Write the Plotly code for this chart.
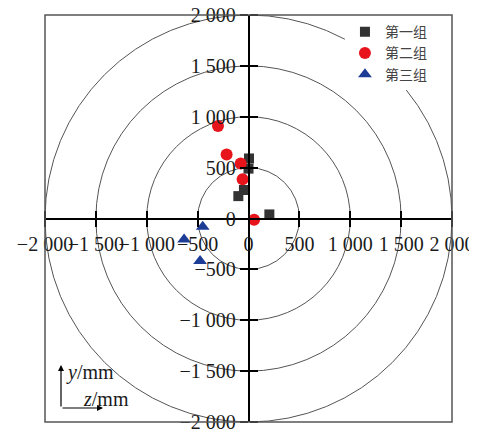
import plotly.graph_objects as go

# ---- data (z, y in mm) ----
g1_z = [5, 0, -45, -100, 205]
g1_y = [590, 490, 280, 220, 40]
g2_z = [-300, -215, -77, -58, 55]
g2_y = [910, 630, 540, 385, -12]
g3_z = [-450, -633, -476]
g3_y = [-80, -206, -417]

names = ["第一组", "第二组", "第三组"]
radii = [500, 1000, 1500, 2000]
tick_vals = [-2000, -1500, -1000, -500, 0, 500, 1000, 1500, 2000]
tick_text = ["−2 000", "−1 500", "−1 000", "−500", "0", "500", "1 000", "1 500", "2 000"]

fig = go.Figure()
fig.add_trace(go.Scatter(x=g1_z, y=g1_y, mode="markers", name=names[0],
                         marker=dict(symbol="square", size=10, color="#333333")))
fig.add_trace(go.Scatter(x=g2_z, y=g2_y, mode="markers", name=names[1],
                         marker=dict(symbol="circle", size=12, color="#e8141c")))
fig.add_trace(go.Scatter(x=g3_z, y=g3_y, mode="markers", name=names[2],
                         marker=dict(symbol="triangle-up", size=12, color="#1c3c96")))
# invisible trace to host the overlay axes (upper/right halves of ticks)
fig.add_trace(go.Scatter(x=[], y=[], xaxis="x2", yaxis="y2", showlegend=False,
                         hoverinfo="skip"))

for r in radii:
    fig.add_shape(type="circle", xref="x", yref="y", x0=-r, y0=-r, x1=r, y1=r,
                  line=dict(color="#555555", width=1), layer="below")

# frame
fig.add_shape(type="rect", xref="paper", yref="paper", x0=0, y0=0, x1=1, y1=1,
              line=dict(color="#555555", width=1.5))

tickfont = dict(family="Liberation Serif", size=20, color="#1a1a1a")
common = dict(range=[-2000, 2000], showgrid=False, zeroline=False, showline=True,
              linecolor="black", linewidth=1.5, tickvals=tick_vals,
              tickcolor="black", tickwidth=1.5, ticklen=8, automargin=False,
              tickangle=0)

fig.update_layout(
    width=477, height=429,
    margin=dict(l=37, r=33, t=7, b=15),
    paper_bgcolor="white", plot_bgcolor="white",
    xaxis=dict(**common, anchor="free", position=0.5, ticks="outside",
               ticktext=tick_text, tickfont=tickfont, domain=[0, 1]),
    yaxis=dict(**common, anchor="free", position=0.5, ticks="outside",
               ticktext=tick_text, tickfont=tickfont, domain=[0, 1]),
    xaxis2=dict(range=[-2000, 2000], overlaying="x", anchor="free", position=0.5,
                side="top", showgrid=False, zeroline=False, showline=False,
                tickvals=tick_vals, showticklabels=False, ticks="outside",
                tickcolor="black", tickwidth=1.5, ticklen=8, automargin=False),
    yaxis2=dict(range=[-2000, 2000], overlaying="y", anchor="free", position=0.5,
                side="right", showgrid=False, zeroline=False, showline=False,
                tickvals=tick_vals, showticklabels=False, ticks="outside",
                tickcolor="black", tickwidth=1.5, ticklen=8, automargin=False),
    legend=dict(x=0.737, y=0.997, xanchor="left", yanchor="top",
                bgcolor="white", borderwidth=0, itemwidth=30,
                font=dict(family="Noto Sans CJK SC", size=14, color="#444444"),
                tracegroupgap=0),
    showlegend=True,
)

# coordinate indicator (bottom-left)
arrow = dict(showarrow=True, arrowhead=2, arrowsize=1, arrowwidth=1.2,
             arrowcolor="black", xref="paper", yref="paper", text="")
fig.add_annotation(x=0.0393, y=0.140, ax=0, ay=43, **arrow)
fig.add_annotation(x=0.1425, y=0.0344, ax=-42, ay=0, **arrow)
fig.add_annotation(x=0.047, y=0.122, xref="paper", yref="paper", text="<i>y</i>/mm",
                   showarrow=False, xanchor="left", yanchor="middle",
                   font=dict(family="Liberation Serif", size=20, color="#1a1a1a"))
fig.add_annotation(x=0.088, y=0.057, xref="paper", yref="paper", text="<i>z</i>/mm",
                   showarrow=False, xanchor="left", yanchor="middle",
                   font=dict(family="Liberation Serif", size=20, color="#1a1a1a"))

fig.write_html("out.html")
